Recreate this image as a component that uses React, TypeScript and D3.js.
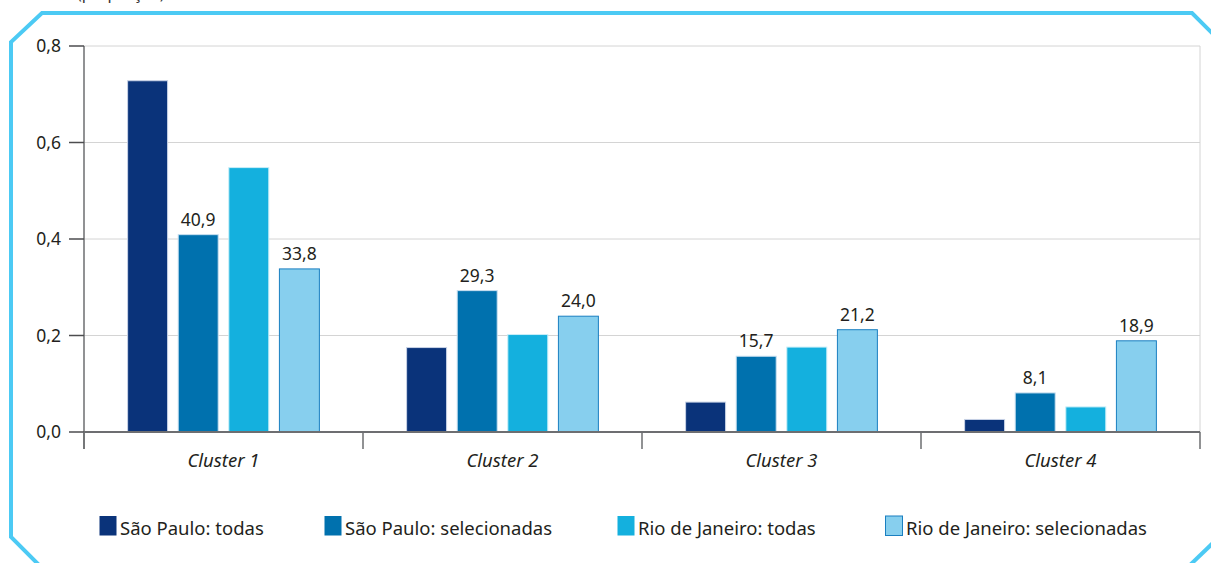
import React from "react";
import * as d3 from "d3";

const clusters = ["Cluster 1", "Cluster 2", "Cluster 3", "Cluster 4"];
const seriesNames = [
  "São Paulo: todas",
  "São Paulo: selecionadas",
  "Rio de Janeiro: todas",
  "Rio de Janeiro: selecionadas",
];
const spTodas = [0.728, 0.175, 0.062, 0.026];
const spSelecionadas = [0.409, 0.293, 0.157, 0.081];
const rjTodas = [0.548, 0.202, 0.176, 0.052];
const rjSelecionadas = [0.338, 0.24, 0.212, 0.189];
const seriesValues = [spTodas, spSelecionadas, rjTodas, rjSelecionadas];
const labeledSeries = [false, true, false, true];
const yTicks = [0, 0.2, 0.4, 0.6, 0.8];
const colors = ["#0a337a", "#0071ae", "#14b0de", "#87cfee"];
const strokes = ["#c8d3e6", "#c8dff0", "#c8eef8", "#1a7fc0"];
const legendX = [99, 324, 617, 885];

const FONT = "'Noto Sans', 'Open Sans', sans-serif";

export default function App() {
  const W = 1211;
  const H = 563;
  const left = 84;
  const right = 1200;
  const top = 46;
  const bottom = 432;

  const x0 = d3.scaleBand<string>().domain(clusters).range([left, right]).padding(0);
  const x1 = d3
    .scaleBand<number>()
    .domain([0, 1, 2, 3])
    .range([0, x0.bandwidth()])
    .paddingInner(0.21)
    .paddingOuter(0.862);
  const y = d3.scaleLinear().domain([0, 0.8]).range([bottom, top]);
  const fmt = (v: number) => d3.format(".1f")(v).replace(".", ",");
  const boundaries = [...clusters.map((c) => x0(c) as number), right];

  return (
    <svg
      width={W}
      height={H}
      style={{ position: "absolute", left: 0, top: 0, display: "block" }}
      fontFamily={FONT}
    >
      <rect x={0} y={0} width={W} height={H} fill="#fff" />
      {/* title, cut off at the top edge as in the reference */}
      <text x={77} y={-1} fontSize={16} fill="#333">
        (proporção)
      </text>
      {/* frame */}
      <path
        d="M 40 566 L 11 537 L 11 42 L 42 13 L 1192 13 L 1214 35"
        fill="none"
        stroke="#4ccaf4"
        strokeWidth={4}
      />
      <path d="M 1189 566 L 1214 542" fill="none" stroke="#4ccaf4" strokeWidth={4} />

      {/* gridlines */}
      {yTicks
        .filter((t) => t > 0)
        .map((t) => (
          <line key={t} x1={left} x2={right} y1={y(t)} y2={y(t)} stroke="#d4d4d4" strokeWidth={1} />
        ))}
      <line x1={right} x2={right} y1={top} y2={bottom} stroke="#d4d4d4" strokeWidth={1} />

      {/* bars */}
      {clusters.map((c, ci) =>
        seriesValues.map((vals, si) => {
          const bx = (x0(c) as number) + (x1(si) as number);
          const by = y(vals[ci]);
          return (
            <g key={c + si}>
              <rect
                x={bx}
                y={by}
                width={x1.bandwidth()}
                height={bottom - by}
                fill={colors[si]}
                stroke={strokes[si]}
                strokeWidth={1}
              />
              {labeledSeries[si] && (
                <text
                  x={bx + x1.bandwidth() / 2}
                  y={by - 9}
                  textAnchor="middle"
                  fontSize={17.5}
                  fill="#231f20"
                >
                  {fmt(vals[ci] * 100)}
                </text>
              )}
            </g>
          );
        })
      )}

      {/* y axis */}
      <line x1={left} x2={left} y1={top} y2={449} stroke="#6d6e71" strokeWidth={1.5} />
      {yTicks.map((t) => (
        <g key={t}>
          <line x1={69} x2={left} y1={y(t)} y2={y(t)} stroke="#4d4d4f" strokeWidth={1.5} />
          <text x={61} y={y(t)} dy="0.35em" textAnchor="end" fontSize={17.5} fill="#231f20">
            {d3.format(".1f")(t).replace(".", ",")}
          </text>
        </g>
      ))}

      {/* x axis */}
      <line x1={left} x2={right} y1={bottom} y2={bottom} stroke="#6d6e71" strokeWidth={2} />
      {boundaries.map((bx, i) => (
        <line key={i} x1={bx} x2={bx} y1={bottom} y2={449} stroke="#6d6e71" strokeWidth={1.5} />
      ))}
      {clusters.map((c) => (
        <text
          key={c}
          x={(x0(c) as number) + x0.bandwidth() / 2}
          y={467}
          textAnchor="middle"
          fontSize={18.5}
          fontStyle="italic"
          fill="#231f20"
        >
          {c}
        </text>
      ))}

      {/* legend */}
      {seriesNames.map((n, i) => (
        <g key={n}>
          <rect
            x={legendX[i] + 0.5}
            y={516}
            width={17}
            height={19.5}
            fill={colors[i]}
            stroke={i === 3 ? strokes[3] : "none"}
          />
          <text x={legendX[i] + 21} y={535} fontSize={18.5} fill="#231f20">
            {n}
          </text>
        </g>
      ))}
    </svg>
  );
}
